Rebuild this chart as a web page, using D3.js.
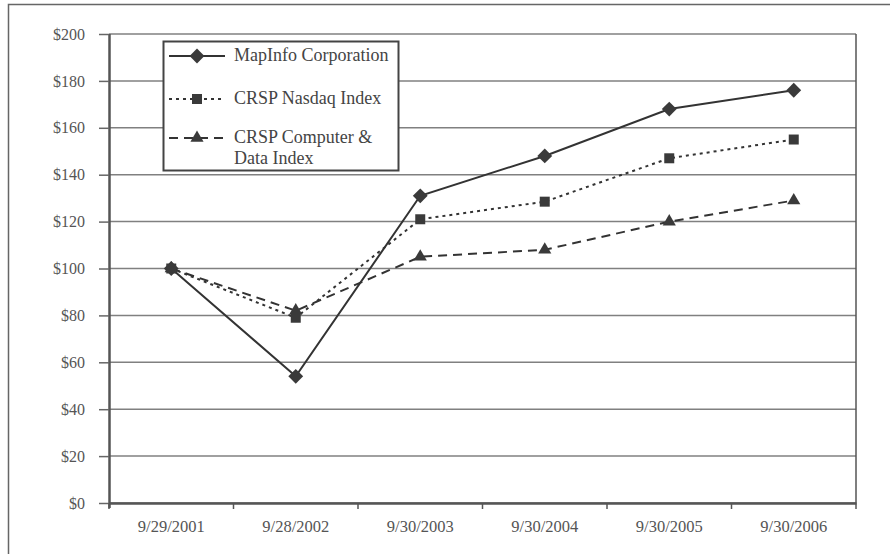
<!DOCTYPE html>
<html>
<head>
<meta charset="utf-8">
<script src="https://cdn.jsdelivr.net/npm/d3@7"></script>
<style>
  body { margin: 0; background: #fff; }
  text { font-family: "Liberation Serif", "Times New Roman", serif; }
</style>
</head>
<body>
<div id="container"></div>
<script>
/* DATA */
const dates = ["9/29/2001", "9/28/2002", "9/30/2003", "9/30/2004", "9/30/2005", "9/30/2006"];
const mapinfo = [100, 54, 131, 148, 168, 176];
const nasdaq = [100, 79, 121, 128.5, 147, 155];
const computer = [100, 82, 105, 108, 120, 129];
const yTicks = [0, 20, 40, 60, 80, 100, 120, 140, 160, 180, 200];

const width = 890, height = 554,
  margin = { top: 34, bottom: 51, left: 109, right: 34 };

const ink = "#333";

const svg = d3.select("#container")
  .append("svg")
  .attr("width", width)
  .attr("height", height);

// outer frame (right and bottom run off the page)
svg.append("rect")
  .attr("x", 8.5).attr("y", 4.5)
  .attr("width", width + 10).attr("height", height + 10)
  .attr("fill", "none").attr("stroke", "#666").attr("stroke-width", 1.5);

/* SCALES */
const x = d3.scaleBand()
  .domain(dates)
  .range([margin.left, width - margin.right]);

const y = d3.scaleLinear()
  .domain([0, 200])
  .range([height - margin.bottom, margin.top]);

// gridlines
svg.append("g")
  .selectAll("line")
  .data(yTicks)
  .join("line")
  .attr("x1", margin.left).attr("x2", width - margin.right)
  .attr("y1", d => y(d)).attr("y2", d => y(d))
  .attr("stroke", "#808080").attr("stroke-width", 1.5);

// right edge of plot
svg.append("line")
  .attr("x1", width - margin.right).attr("x2", width - margin.right)
  .attr("y1", y(200)).attr("y2", y(0))
  .attr("stroke", "#555").attr("stroke-width", 1.5);

/* AXES */
const yAxis = svg.append("g")
  .attr("transform", `translate(${margin.left},0)`)
  .call(d3.axisLeft(y).tickValues(yTicks).tickFormat(d => "$" + d).tickSize(10).tickPadding(14));
yAxis.select(".domain").attr("stroke", "#555").attr("stroke-width", 2.5)
  .attr("d", `M0.5,${y(200)}V${y(0) + 5}`);
yAxis.selectAll(".tick line").attr("stroke", "#666").attr("stroke-width", 1.5);
yAxis.selectAll("text").attr("font-size", 16).attr("fill", "#555")
  .attr("font-family", "Liberation Serif");

const xAxis = svg.append("g")
  .attr("transform", `translate(0,${y(0)})`)
  .call(d3.axisBottom(x).tickSize(0).tickPadding(17));
xAxis.select(".domain").attr("stroke", "#555").attr("stroke-width", 2.5);
xAxis.selectAll("text").attr("font-size", 16.5).attr("fill", "#555")
  .attr("font-family", "Liberation Serif");

// tick marks at band boundaries
const edges = dates.map(d => x(d)).concat([x(dates[dates.length - 1]) + x.bandwidth()]);
xAxis.selectAll(".edge")
  .data(edges)
  .join("line")
  .attr("class", "edge")
  .attr("x1", d => d).attr("x2", d => d)
  .attr("y1", 0).attr("y2", 6)
  .attr("stroke", "#555").attr("stroke-width", 1.5);

/* SERIES */
const series = [
  { name: "MapInfo Corporation", values: mapinfo, dash: null, shape: d3.symbolDiamond2, size: 140 },
  { name: "CRSP Nasdaq Index", values: nasdaq, dash: "3,4", shape: d3.symbolSquare, size: 100 },
  { name: "CRSP Computer & Data Index", values: computer, dash: "9,6", shape: d3.symbolTriangle, size: 75 }
];

const cx = d => x(d) + x.bandwidth() / 2;
const line = d3.line().x(d => cx(d.date)).y(d => y(d.v));

series.forEach(s => {
  const pts = dates.map((d, i) => ({ date: d, v: s.values[i] }));
  svg.append("path")
    .datum(pts)
    .attr("d", line)
    .attr("fill", "none")
    .attr("stroke", ink)
    .attr("stroke-width", 2)
    .attr("stroke-dasharray", s.dash);
  svg.append("g")
    .selectAll("path")
    .data(pts)
    .join("path")
    .attr("transform", d => `translate(${cx(d.date)},${y(d.v)})`)
    .attr("d", d3.symbol().type(s.shape).size(s.size))
    .attr("fill", "#3a3a3a");
});

/* LEGEND */
const legend = svg.append("g");
legend.append("rect")
  .attr("x", 163.5).attr("y", 41.5).attr("width", 235).attr("height", 129)
  .attr("fill", "#fff").attr("stroke", "#444").attr("stroke-width", 2);

const legendRows = [
  { s: series[0], y: 56, lines: ["MapInfo Corporation"] },
  { s: series[1], y: 99, lines: ["CRSP Nasdaq Index"] },
  { s: series[2], y: 138, lines: ["CRSP Computer &", "Data Index"] }
];
legendRows.forEach(r => {
  legend.append("line")
    .attr("x1", 169).attr("x2", 225)
    .attr("y1", r.y).attr("y2", r.y)
    .attr("stroke", ink).attr("stroke-width", 2)
    .attr("stroke-dasharray", r.s.dash);
  legend.append("path")
    .attr("transform", `translate(197,${r.y})`)
    .attr("d", d3.symbol().type(r.s.shape).size(r.s.size))
    .attr("fill", "#3a3a3a");
  const t = legend.append("text")
    .attr("x", 234).attr("y", r.y + 5)
    .attr("font-size", 18).attr("fill", "#444");
  r.lines.forEach((ln, i) => {
    t.append("tspan").attr("x", 234).attr("dy", i === 0 ? 0 : 21).text(ln);
  });
});
</script>
</body>
</html>
